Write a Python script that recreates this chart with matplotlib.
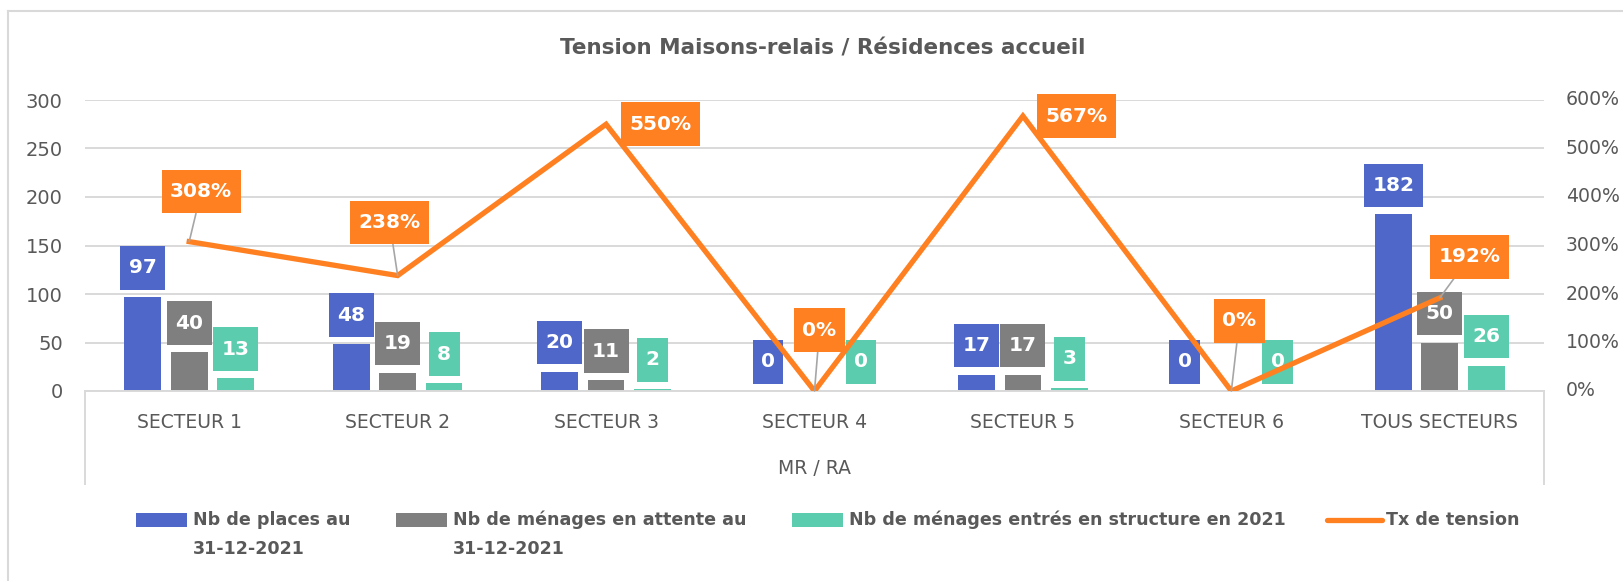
import numpy as np
import matplotlib
matplotlib.use("Agg")
import matplotlib.pyplot as plt
from matplotlib.patches import Rectangle
from matplotlib.lines import Line2D
from matplotlib.path import Path
from matplotlib.transforms import blended_transform_factory

categories = ["SECTEUR 1", "SECTEUR 2", "SECTEUR 3", "SECTEUR 4", "SECTEUR 5", "SECTEUR 6", "TOUS SECTEURS"]
places = [97, 48, 20, 0, 17, 0, 182]
attente = [40, 19, 11, np.nan, 17, np.nan, 50]
entres = [13, 8, 2, 0, 3, 0, 26]
tension = [3.08, 2.38, 5.50, 0.0, 5.67, 0.0, 1.92]
tension_labels = ["308%", "238%", "550%", "0%", "567%", "0%", "192%"]
left_ticks = [0, 50, 100, 150, 200, 250, 300]
right_ticks = [0, 1, 2, 3, 4, 5, 6]
right_tick_labels = ["0%", "100%", "200%", "300%", "400%", "500%", "600%"]
legend_labels = ["Nb de places au\n31-12-2021", "Nb de ménages en attente au\n31-12-2021",
                 "Nb de ménages entrés en structure en 2021", "Tx de tension"]
title = "Tension Maisons-relais / Résidences accueil"
axis_group = "MR / RA"

BLUE = "#4E67C8"
GRAY = "#7F7F7F"
GREEN = "#5BCDAE"
ORANGE = "#FE8021"
TXT = "#595959"
GRID = "#D9D9D9"

W, H = 1624, 581
plt.rcParams['font.family'] = ['DejaVu Sans']
fig = plt.figure(figsize=(W / 100, H / 100), dpi=100)


def fx(px):
    return px / W


def fy(py):
    return 1 - py / H


class PadBox:
    """Rectangle box with separate horizontal / vertical padding (in fontsize units)."""
    def __init__(self, padx, pady):
        self.padx = padx
        self.pady = pady

    def __call__(self, x0, y0, width, height, mutation_size):
        px = self.padx * mutation_size
        py = self.pady * mutation_size
        x0 -= px
        y0 -= py
        x1 = x0 + width + 2 * px
        y1 = y0 + height + 2 * py
        return Path([(x0, y0), (x1, y0), (x1, y1), (x0, y1), (x0, y0)], closed=True)


# outer border (cropped chart frame)
fig.add_artist(Line2D([fx(8), 1.0], [fy(11), fy(11)], color=GRID, lw=1.5))
fig.add_artist(Line2D([fx(8), fx(8)], [fy(11), 0.0], color=GRID, lw=1.5))

ax = fig.add_axes([fx(85), fy(391), fx(1544) - fx(85), fy(100) - fy(391)])
ax2 = ax.twinx()

x = np.arange(len(categories))
bw = 0.176
off = 0.223
series = [(places, BLUE, -off), (attente, GRAY, 0.0), (entres, GREEN, off)]
for vals, col, o in series:
    ax.bar(x + o, vals, width=bw, color=col, zorder=2)

ax.set_xlim(-0.5, len(categories) - 0.5)
ax.set_ylim(0, 300)
ax.set_yticks(left_ticks)
ax.grid(axis='y', color=GRID, lw=1.4, zorder=0)
ax.set_axisbelow(True)
for s in ["top", "right", "left"]:
    ax.spines[s].set_visible(False)
ax.spines["bottom"].set_color(GRID)
ax.spines["bottom"].set_linewidth(1.4)
ax.tick_params(axis='y', length=0, pad=16, labelsize=14, labelcolor=TXT)
ax.set_xticks(x)
ax.set_xticklabels(categories)
ax.tick_params(axis='x', length=0, pad=16, labelsize=13.5, labelcolor=TXT)

# multi-level category separators
for px in (85, 1544):
    fig.add_artist(Line2D([fx(px), fx(px)], [fy(391), fy(484)], color=GRID, lw=1.4))
fig.text(fx(814.5), fy(468), axis_group, ha='center', va='center', fontsize=13.5, color=TXT)

# line on secondary axis
ax2.set_ylim(0, 6)
ax2.set_yticks(right_ticks)
ax2.tick_params(axis='y', length=0, labelright=False)
for s in ["top", "right", "left", "bottom"]:
    ax2.spines[s].set_visible(False)
rt = blended_transform_factory(fig.transFigure, ax2.transData)
for t, lab in zip(right_ticks, right_tick_labels):
    fig.text(fx(1566), t, lab, transform=rt, ha='left', va='center', fontsize=13.6, color=TXT)
ax2.plot(x, tension, color=ORANGE, lw=3.8, solid_joinstyle='miter', zorder=3)

# bar data labels
lab_fs = 14.5
box = PadBox(0.42, 0.61)
for vals, col, o in series:
    for xi, v in zip(x, vals):
        if np.isnan(v):
            continue
        ax.annotate(f"{int(v)}", xy=(xi + o, v), xytext=(0, 21), textcoords='offset points',
                    ha='center', va='center', fontsize=lab_fs, fontweight='bold', color='white',
                    bbox=dict(boxstyle=box, fc=col, ec='none'), zorder=6,
                    annotation_clip=False)

# line data labels (px offsets of label centre from point)
line_offsets = [(12, 50), (-8, 53), (54, 0), (5, 61), (54, 0), (8, 70), (30, 41)]
leaders = [True, True, False, True, False, True, True]
for xi, v, t, (dx, dy), ld in zip(x, tension, tension_labels, line_offsets, leaders):
    ap = dict(arrowstyle='-', color='#A6A6A6', lw=1.2, shrinkA=0, shrinkB=0) if ld else None
    ax2.annotate(t, xy=(xi, v), xytext=(dx * 0.72, dy * 0.72), textcoords='offset points',
                 ha='center', va='center', fontsize=lab_fs, fontweight='bold', color='white',
                 bbox=dict(boxstyle=box, fc=ORANGE, ec='none'),
                 arrowprops=ap, zorder=7, annotation_clip=False)

# title
fig.text(fx(823), fy(49), title, ha='center', va='center', fontsize=15.5, fontweight='bold', color=TXT)

# manual legend
leg_y = 520
handles = [(136, 187, BLUE, 'rect', 193), (396, 447, GRAY, 'rect', 453),
           (792, 843, GREEN, 'rect', 849), (1327, 1382, ORANGE, 'line', 1386)]
for (x0, x1, col, kind, tx), lab in zip(handles, legend_labels):
    if kind == 'rect':
        fig.add_artist(Rectangle((fx(x0), fy(leg_y + 7)), fx(x1) - fx(x0), fy(leg_y - 7) - fy(leg_y + 7),
                                 transform=fig.transFigure, fc=col, ec='none'))
    else:
        fig.add_artist(Line2D([fx(x0), fx(x1)], [fy(leg_y), fy(leg_y)], color=col, lw=3.8,
                              solid_capstyle='round'))
    for i, line in enumerate(lab.split("\n")):
        fig.text(fx(tx), fy(leg_y + 29 * i), line, ha='left', va='center', fontsize=12.6,
                 fontweight='bold', color=TXT)

fig.savefig("out.png", dpi=100)
